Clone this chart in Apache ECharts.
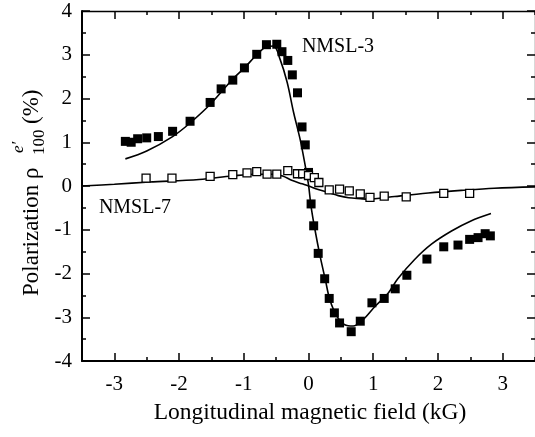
<!DOCTYPE html>
<html><head><meta charset="utf-8">
<script src="https://cdn.jsdelivr.net/npm/echarts@6/dist/echarts.min.js"></script>
<style>html,body{margin:0;padding:0;background:#fff}#c{width:535px;height:437px}</style>
</head><body><div id="c"></div>
<script>
// Tick labels
const xTicks = [-3, -2, -1, 0, 1, 2, 3];
const yTicks = [-4, -3, -2, -1, 0, 1, 2, 3, 4];

// NMSL-3 measured points (filled squares)
const nmsl3X = [-2.83,-2.74,-2.64,-2.50,-2.32,-2.10,-1.83,-1.52,-1.35,-1.17,-0.99,-0.80,-0.65,-0.49,-0.41,-0.32,-0.25,-0.17,-0.10,-0.05,0.00,0.04,0.08,0.15,0.25,0.32,0.40,0.48,0.66,0.80,0.98,1.17,1.34,1.52,1.83,2.09,2.31,2.49,2.62,2.73,2.81];
const nmsl3Y = [1.02,1.00,1.08,1.10,1.13,1.25,1.48,1.91,2.22,2.42,2.70,3.01,3.23,3.24,3.07,2.87,2.54,2.13,1.35,0.94,0.31,-0.41,-0.91,-1.54,-2.12,-2.57,-2.90,-3.13,-3.33,-3.09,-2.67,-2.57,-2.35,-2.04,-1.67,-1.39,-1.35,-1.22,-1.18,-1.09,-1.14];

// NMSL-7 measured points (open squares)
const nmsl7X = [-2.51,-2.11,-1.52,-1.17,-0.95,-0.80,-0.64,-0.49,-0.32,-0.17,-0.09,0.00,0.09,0.16,0.32,0.48,0.63,0.80,0.95,1.17,1.51,2.09,2.49];
const nmsl7Y = [0.18,0.18,0.22,0.26,0.30,0.33,0.27,0.27,0.35,0.28,0.28,0.24,0.19,0.08,-0.09,-0.07,-0.11,-0.18,-0.26,-0.23,-0.25,-0.17,-0.17];

// Fitted curve for NMSL-3
const fit3X = [-2.83,-2.5,-2.1,-1.83,-1.51,-1.18,-0.99,-0.80,-0.64,-0.54,-0.44,-0.33,-0.23,-0.13,-0.05,0.00,0.04,0.10,0.18,0.26,0.33,0.44,0.56,0.69,0.82,1.03,1.23,1.38,1.64,1.90,2.21,2.51,2.82];
const fit3Y = [0.62,0.80,1.13,1.44,1.88,2.43,2.70,3.00,3.19,3.20,2.90,2.37,1.68,1.07,0.46,0.03,-0.47,-1.00,-1.61,-2.14,-2.60,-2.98,-3.17,-3.20,-3.09,-2.75,-2.45,-2.12,-1.68,-1.33,-1.03,-0.80,-0.63];

// Fitted curve for NMSL-7
const fit7X = [-3.5,-3.0,-2.46,-1.69,-1.18,-0.82,-0.55,-0.40,-0.26,-0.10,0.00,0.15,0.31,0.46,0.62,0.80,0.92,1.10,1.33,1.85,2.36,2.87,3.5];
const fit7Y = [0.00,0.04,0.09,0.15,0.23,0.27,0.27,0.23,0.13,0.05,0.00,-0.08,-0.15,-0.22,-0.27,-0.29,-0.30,-0.28,-0.24,-0.16,-0.10,-0.05,-0.02];

const zip = (a, b) => a.map((v, i) => [v, b[i]]);
const FONT = 'Liberation Serif';
const gridRect = { left: 82, top: 11, width: 455, height: 350 };

function xAx(grid, pos, major, showLabel, lineW) {
  return {
    type: 'value', gridIndex: grid, position: pos, min: -3.5, max: 3.5, interval: 0.5,
    axisLine: { show: lineW > 0, onZero: false, lineStyle: { color: '#000', width: lineW || 1 } },
    axisTick: major ? { inside: true, length: 8, customValues: xTicks, lineStyle: { color: '#000', width: 1.5 } }
                    : { inside: true, length: 4, lineStyle: { color: '#000', width: 1.5 } },
    axisLabel: showLabel ? { customValues: xTicks, fontSize: 21, fontFamily: FONT, color: '#000', margin: 13 } : { show: false },
    splitLine: { show: false }
  };
}
function yAx(grid, pos, major, showLabel, lineW) {
  return {
    type: 'value', gridIndex: grid, position: pos, min: -4, max: 4, interval: 0.5,
    axisLine: { show: lineW > 0, onZero: false, lineStyle: { color: '#000', width: lineW || 1 } },
    axisTick: major ? { inside: true, length: 8, customValues: yTicks, lineStyle: { color: '#000', width: 1.5 } }
                    : { inside: true, length: 4, lineStyle: { color: '#000', width: 1.5 } },
    axisLabel: showLabel ? { customValues: yTicks, fontSize: 21, fontFamily: FONT, color: '#000', margin: 10 } : { show: false },
    splitLine: { show: false }
  };
}

const chart = echarts.init(document.getElementById('c'), null, { renderer: 'canvas' });
chart.setOption({
  animation: false,
  backgroundColor: '#fff',
  grid: [Object.assign({}, gridRect), Object.assign({}, gridRect)],
  xAxis: [xAx(0, 'bottom', true, true, 2), xAx(0, 'top', true, false, 1.3), xAx(1, 'bottom', false, false, 0), xAx(1, 'top', false, false, 0)],
  yAxis: [yAx(0, 'left', true, true, 2), yAx(0, 'right', true, false, 1.3), yAx(1, 'left', false, false, 0), yAx(1, 'right', false, false, 0)],
  series: [
    { type: 'line', xAxisIndex: 0, yAxisIndex: 0, data: zip(fit3X, fit3Y), smooth: 0.35, symbol: 'none', lineStyle: { color: '#000', width: 1.6 }, z: 2 },
    { type: 'line', xAxisIndex: 0, yAxisIndex: 0, data: zip(fit7X, fit7Y), smooth: 0.35, symbol: 'none', lineStyle: { color: '#000', width: 1.6 }, z: 2 },
    { type: 'scatter', xAxisIndex: 0, yAxisIndex: 0, data: zip(nmsl3X, nmsl3Y), symbol: 'rect', symbolSize: 9, itemStyle: { color: '#000', opacity: 1 }, z: 3 },
    { type: 'scatter', xAxisIndex: 0, yAxisIndex: 0, data: zip(nmsl7X, nmsl7Y), symbol: 'rect', symbolSize: 8, itemStyle: { color: '#fff', borderColor: '#000', borderWidth: 1.3, opacity: 1 }, z: 3 }
  ],
  graphic: [
    { type: 'text', x: 338, y: 47, style: { text: 'NMSL-3', font: '20px "Liberation Serif"', fill: '#000', align: 'center', verticalAlign: 'middle' } },
    { type: 'text', x: 135, y: 208, style: { text: 'NMSL-7', font: '20px "Liberation Serif"', fill: '#000', align: 'center', verticalAlign: 'middle' } },
    { type: 'text', x: 310, y: 413, style: { text: 'Longitudinal magnetic field (kG)', font: '23.5px "Liberation Serif"', fill: '#000', align: 'center', verticalAlign: 'middle' } },
    { type: 'group', x: 32, y: 296, rotation: Math.PI / 2, children: [
      { type: 'text', x: 0, y: 0, style: { text: 'Polarization ρ', font: '23px "Liberation Serif"', fill: '#000', align: 'left', verticalAlign: 'middle' } },
      { type: 'text', x: 143, y: -13, style: { text: 'e′', font: 'italic 17px "Liberation Serif"', fill: '#000', align: 'left', verticalAlign: 'middle' } },
      { type: 'text', x: 141, y: 8, style: { text: '100', font: '17px "Liberation Serif"', fill: '#000', align: 'left', verticalAlign: 'middle' } },
      { type: 'text', x: 172, y: 0, style: { text: '(%)', font: '23px "Liberation Serif"', fill: '#000', align: 'left', verticalAlign: 'middle' } }
    ] }
  ]
});
</script>
</body></html>
